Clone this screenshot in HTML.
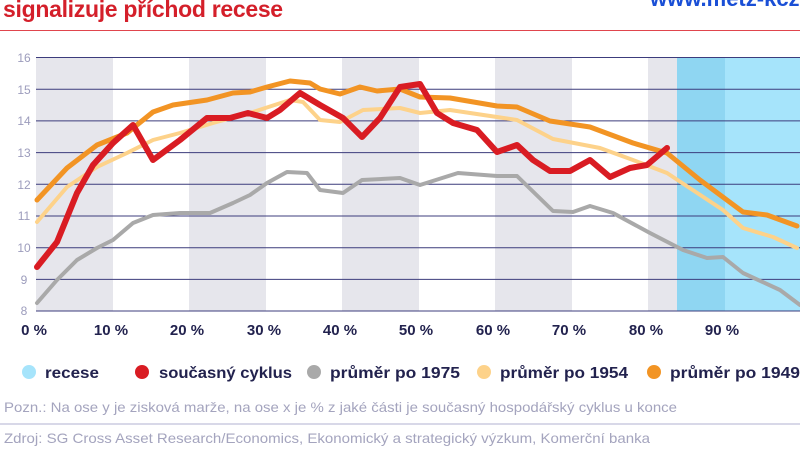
<!DOCTYPE html>
<html><head><meta charset="utf-8"><style>
body{margin:0;width:800px;height:449px;overflow:hidden;background:#fff;font-family:"Liberation Sans",sans-serif;position:relative}
.t{position:absolute;white-space:nowrap}
</style></head><body>
<div class="t" style="left:3px;top:-4px;font-size:23px;font-weight:bold;color:#d41f2a;letter-spacing:-0.3px">signalizuje příchod recese</div>
<div class="t" style="left:650px;top:-14px;font-size:22px;font-weight:bold;color:#1a4fd6">www.metz-kcz</div>
<div style="position:absolute;left:0;top:30px;width:800px;height:1px;background:#e0454d"></div>
<svg width="800" height="449" style="position:absolute;left:0;top:0">
<g fill="#e6e6ec">
<rect x="36" y="57" width="77" height="254"/><rect x="189" y="57" width="77" height="254"/>
<rect x="342" y="57" width="77" height="254"/><rect x="495" y="57" width="77" height="254"/>
<rect x="648" y="57" width="29" height="254"/>
</g>
<rect x="677" y="57" width="48" height="254" fill="#8fd6f2"/>
<rect x="725" y="57" width="75" height="254" fill="#a6e4fb"/>
<g stroke="#3c3c7c" stroke-width="1">
<line x1="36" x2="800" y1="57.5" y2="57.5"/><line x1="36" x2="800" y1="89.2" y2="89.2"/>
<line x1="36" x2="800" y1="120.9" y2="120.9"/><line x1="36" x2="800" y1="152.6" y2="152.6"/>
<line x1="36" x2="800" y1="184.3" y2="184.3"/><line x1="36" x2="800" y1="216" y2="216"/>
<line x1="36" x2="800" y1="247.7" y2="247.7"/><line x1="36" x2="800" y1="279.4" y2="279.4"/>
<line x1="36" x2="800" y1="311" y2="311"/>
</g>
<g font-size="12" fill="#9c9cbc" text-anchor="middle">
<text x="24" y="62">16</text><text x="24" y="94">15</text><text x="24" y="125">14</text>
<text x="24" y="157">13</text><text x="24" y="189">12</text><text x="24" y="220">11</text>
<text x="24" y="252">10</text><text x="24" y="284">9</text><text x="24" y="315">8</text>
</g>
<g font-size="15" font-weight="bold" fill="#22224e" text-anchor="middle">
<text x="34" y="335">0 %</text><text x="111" y="335">10 %</text><text x="187" y="335">20 %</text>
<text x="264" y="335">30 %</text><text x="340" y="335">40 %</text><text x="416" y="335">50 %</text>
<text x="493" y="335">60 %</text><text x="569" y="335">70 %</text><text x="646" y="335">80 %</text>
<text x="722" y="335">90 %</text>
</g>
<g fill="none" stroke-linejoin="round" stroke-linecap="round">
<polyline stroke="#a9a9a9" stroke-width="4" points="37,303 57,280 77,260 97,248 113,240 133,223 153,215 180,213 210,213 233,203 250,195 267,183 287,172 307,173 320,190 343,193 362,180 400,178 420,185 458,173 497,176 517,176 553,211 573,212 590,206 613,213 650,233 683,250 707,258 723,257 743,273 780,290 800,305"/>
<polyline stroke="#fdd28a" stroke-width="4" points="37,222 67,187 97,167 127,153 153,140 180,133 213,123 253,112 290,100 303,102 320,120 340,122 363,110 400,108 420,113 450,110 517,120 553,139 600,148 633,160 667,173 723,210 743,228 773,237 797,248"/>
<polyline stroke="#f29424" stroke-width="5" points="37,200 67,168 97,145 127,133 153,112 173,105 207,100 233,93 250,92 267,87 290,81 310,83 320,89 340,94 360,87 377,91 400,89 420,97 450,98 497,106 517,107 550,121 590,127 633,143 667,153 700,180 743,212 767,215 797,226"/>
<polyline stroke="#d91c23" stroke-width="6" points="37,267 57,242 77,193 93,165 113,143 133,125 153,160 180,140 207,118 230,118 248,113 267,118 280,110 300,93 320,105 343,118 362,137 380,118 400,87 420,84 437,113 453,123 477,130 497,152 517,145 533,160 550,171 570,171 590,160 610,177 630,168 647,165 667,148"/>
</g>
<g font-size="16" font-weight="bold" fill="#22224e">
<circle cx="29" cy="372" r="7" fill="#a6e4fb"/><text x="45" y="378" textLength="54" lengthAdjust="spacingAndGlyphs">recese</text>
<circle cx="142" cy="372" r="7" fill="#d91c23"/><text x="159" y="378" textLength="133" lengthAdjust="spacingAndGlyphs">současný cyklus</text>
<circle cx="314" cy="372" r="7" fill="#a9a9a9"/><text x="330" y="378" textLength="130" lengthAdjust="spacingAndGlyphs">průměr po 1975</text>
<circle cx="484" cy="372" r="7" fill="#fdd28a"/><text x="500" y="378" textLength="128" lengthAdjust="spacingAndGlyphs">průměr po 1954</text>
<circle cx="654" cy="372" r="7" fill="#f29424"/><text x="670" y="378" textLength="130" lengthAdjust="spacingAndGlyphs">průměr po 1949</text>
</g>
<text x="4" y="412" font-size="14" fill="#a4a4be" textLength="673" lengthAdjust="spacingAndGlyphs">Pozn.: Na ose y je zisková marže, na ose x je % z jaké části je současný hospodářský cyklus u konce</text>
<line x1="0" x2="800" y1="424" y2="424" stroke="#b0b0d0" stroke-width="1"/>
<text x="4" y="443" font-size="14" fill="#a4a4be" textLength="646" lengthAdjust="spacingAndGlyphs">Zdroj: SG Cross Asset Research/Economics, Ekonomický a strategický výzkum, Komerční banka</text>
</svg>
</body></html>
